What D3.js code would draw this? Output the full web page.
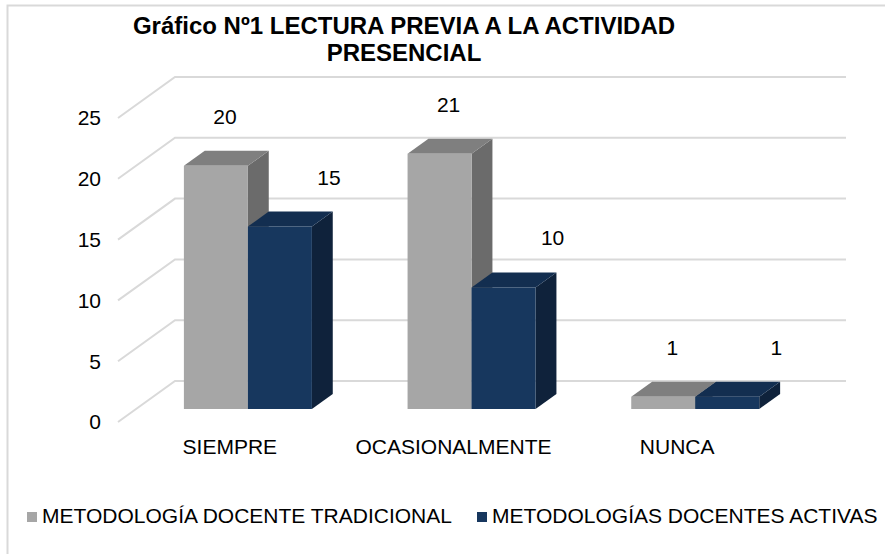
<!DOCTYPE html>
<html>
<head>
<meta charset="utf-8">
<script src="https://cdn.jsdelivr.net/npm/d3@7"></script>
<style>
  body { margin: 0; background: #fff; }
  svg { display: block; font-family: "Liberation Sans", Arial, sans-serif; }
</style>
</head>
<body>
<div id="chart"></div>
<script>
// data
const categories = ['SIEMPRE', 'OCASIONALMENTE', 'NUNCA'];
const seriesNames = ['METODOLOGÍA DOCENTE TRADICIONAL', 'METODOLOGÍAS DOCENTES ACTIVAS'];
const tradicional = [20, 21, 1];
const activas = [15, 10, 1];
const yTicks = [0, 5, 10, 15, 20, 25];
const titleLines = ['Gráfico Nº1 LECTURA PREVIA A LA ACTIVIDAD', 'PRESENCIAL'];

const W = 885, H = 554;

// 3d box: front plane + depth offset
const frontLeft = 118, frontRight = 789, frontBase = 422;
const depthX = 57, depthY = -41;
const barF0 = 0.317, barF1 = 0.683;   // bar depth, as fraction of wall depth

const colors = [
  { front: '#a6a6a6', top: '#7f7f7f', side: '#6b6b6b' },
  { front: '#17375e', top: '#132e50', side: '#0f223b' }
];
const labelDx = [9, 49];

const svg = d3.select('#chart')
  .append('svg')
  .attr('width', W)
  .attr('height', H);

// outer chart border
svg.append('rect')
  .attr('x', 7.5).attr('y', 5.5)
  .attr('width', 1000).attr('height', 1000)
  .attr('fill', 'none')
  .attr('stroke', '#d9d9d9')
  .attr('stroke-width', 2);

// scales
const hScale = d3.scaleLinear().domain([0, 25]).range([0, 304]);
const x0 = d3.scaleBand().domain(categories).range([frontLeft, frontRight]);
const x1 = d3.scaleBand().domain(d3.range(seriesNames.length)).range([-64, 64]);

// project (front-plane x, value, depth fraction) to screen
const proj = (x, v, f) => [x + depthX * f, frontBase + depthY * f - hScale(v)];

// gridlines: diagonal side + back wall
const grid = svg.append('g').attr('stroke', '#d9d9d9').attr('stroke-width', 2).attr('fill', 'none');
yTicks.forEach(t => {
  const a = proj(frontLeft, t, 0), b = proj(frontLeft, t, 1), c = proj(frontRight, t, 1);
  grid.append('path').attr('d', `M${a}L${b}L${c}`);
});

// y tick labels
svg.append('g').selectAll('text')
  .data(yTicks)
  .join('text')
  .attr('x', 101)
  .attr('y', d => proj(frontLeft, d, 0)[1])
  .attr('dy', '0.35em')
  .attr('text-anchor', 'end')
  .attr('font-size', 21)
  .attr('fill', '#000')
  .text(d => d);

// bars
const data = [];
categories.forEach((c, i) => {
  [tradicional, activas].forEach((s, k) => data.push({ cat: c, k, v: s[i] }));
});

const bars = svg.append('g');
data.forEach(d => {
  const xl = x0(d.cat) + x0.bandwidth() / 2 + x1(d.k);
  const xr = xl + x1.bandwidth();
  const col = colors[d.k];
  const p = (x, v, f) => proj(x, v, f).join(',');
  const g = bars.append('g');
  // side face
  g.append('path')
    .attr('d', `M${p(xr, 0, barF0)}L${p(xr, 0, barF1)}L${p(xr, d.v, barF1)}L${p(xr, d.v, barF0)}Z`)
    .attr('fill', col.side);
  // top face
  g.append('path')
    .attr('d', `M${p(xl, d.v, barF0)}L${p(xl, d.v, barF1)}L${p(xr, d.v, barF1)}L${p(xr, d.v, barF0)}Z`)
    .attr('fill', col.top);
  // front face
  g.append('path')
    .attr('d', `M${p(xl, 0, barF0)}L${p(xl, d.v, barF0)}L${p(xr, d.v, barF0)}L${p(xr, 0, barF0)}Z`)
    .attr('fill', col.front);
  // value label
  const top = proj((xl + xr) / 2, d.v, barF0);
  svg.append('text')
    .attr('x', top[0] + labelDx[d.k])
    .attr('y', top[1] - 42)
    .attr('text-anchor', 'middle')
    .attr('font-size', 21)
    .text(d.v);
});

// category labels
svg.append('g').selectAll('text')
  .data(categories)
  .join('text')
  .attr('x', d => x0(d) + x0.bandwidth() / 2)
  .attr('y', 454)
  .attr('text-anchor', 'middle')
  .attr('font-size', 21)
  .text(d => d);

// title
svg.append('text')
  .attr('x', 404)
  .attr('y', 34)
  .attr('text-anchor', 'middle')
  .attr('font-size', 24)
  .attr('font-weight', 'bold')
  .selectAll('tspan')
  .data(titleLines)
  .join('tspan')
  .attr('x', 404)
  .attr('dy', (d, i) => i ? 27 : 0)
  .text(d => d);

// legend
const legendX = [27, 477];
const legend = svg.append('g');
seriesNames.forEach((name, i) => {
  legend.append('rect')
    .attr('x', legendX[i]).attr('y', 512)
    .attr('width', 10).attr('height', 10)
    .attr('fill', colors[i].front);
  legend.append('text')
    .attr('x', legendX[i] + 15)
    .attr('y', 523)
    .attr('font-size', 21)
    .text(name);
});
</script>
</body>
</html>
